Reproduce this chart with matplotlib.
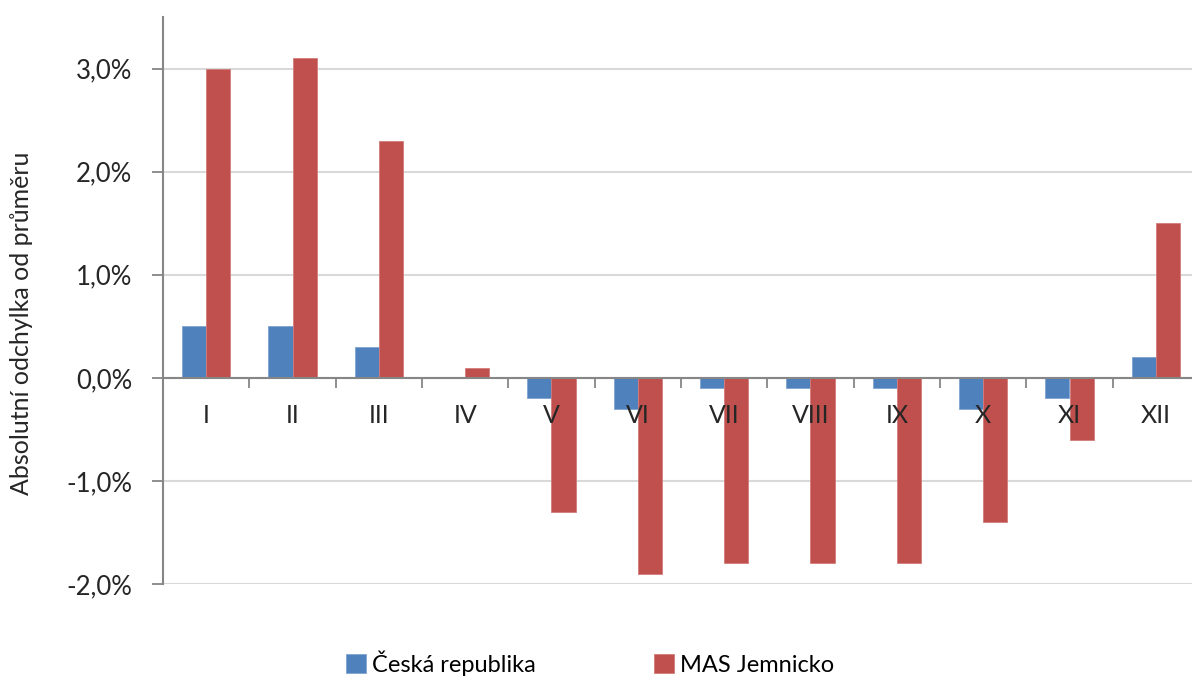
import numpy as np
import matplotlib
import matplotlib.pyplot as plt
from matplotlib.ticker import FuncFormatter

matplotlib.use('Agg')

# data (percent)
mesice = ['I', 'II', 'III', 'IV', 'V', 'VI', 'VII', 'VIII', 'IX', 'X', 'XI', 'XII']
ceska_republika = [0.5, 0.5, 0.3, 0.0, -0.2, -0.3, -0.1, -0.1, -0.1, -0.3, -0.2, 0.2]
mas_jemnicko = [3.0, 3.1, 2.3, 0.1, -1.3, -1.9, -1.8, -1.8, -1.8, -1.4, -0.6, 1.5]
y_ticks = [-2, -1, 0, 1, 2, 3]

plt.rcParams['font.family'] = ['Lato', 'DejaVu Sans']

fig = plt.figure(figsize=(11.92, 6.8), dpi=100)
ax = fig.add_axes([163 / 1192, 1 - 584 / 680, (1199 - 163) / 1192, (584 - 17) / 680])

x = np.arange(len(mesice))
w = 0.28
ax.bar(x - w / 2, ceska_republika, w, color='#4F81BD', edgecolor='#7FA3D1', linewidth=0.6,
       label='Česká republika', zorder=2)
ax.bar(x + w / 2, mas_jemnicko, w, color='#C0504D', edgecolor='#D47D7B', linewidth=0.6,
       label='MAS Jemnicko', zorder=2)

ax.set_xlim(-0.5, len(mesice) - 0.5)
ax.set_ylim(-2.0, 3.5)
ax.set_yticks(y_ticks)
ax.yaxis.set_major_formatter(FuncFormatter(lambda v, p: f"{v:.1f}%".replace('.', ',')))
ax.grid(axis='y', color='#D9D9D9', linewidth=1.5)

# osa x na nule, popisky nad sloupci
ax.xaxis.set_zorder(3)
ax.yaxis.set_zorder(1)
ax.spines['bottom'].set_position(('data', 0))
ax.spines['bottom'].set_color('#868686')
ax.spines['bottom'].set_linewidth(1.5)
ax.spines['bottom'].set_zorder(3)
ax.spines['left'].set_color('#868686')
ax.spines['left'].set_linewidth(1.5)
ax.spines['top'].set_visible(False)
ax.spines['right'].set_visible(False)

ax.set_xticks(x)
ax.set_xticklabels(mesice)
ax.set_xticks(np.arange(0.5, len(mesice) - 0.5, 1), minor=True)
ax.tick_params(axis='x', which='major', length=0, pad=19, labelsize=18, labelcolor='#262626')
ax.tick_params(axis='x', which='minor', length=7, width=1.3, color='#868686', direction='out')
ax.tick_params(axis='y', length=8, width=1.3, color='#868686', pad=14, labelsize=18.5,
               labelcolor='#262626')

ax.set_ylabel('Absolutní odchylka od průměru', fontsize=18, color='#262626')
ax.yaxis.set_label_coords(-0.125, 0.46)

fig.legend(loc='center', bbox_to_anchor=(0.495, 0.025), ncol=2, frameon=False, fontsize=17,
           handlelength=0.85, handleheight=0.85, handletextpad=0.25, columnspacing=5)

fig.savefig('out.png', dpi=100)
